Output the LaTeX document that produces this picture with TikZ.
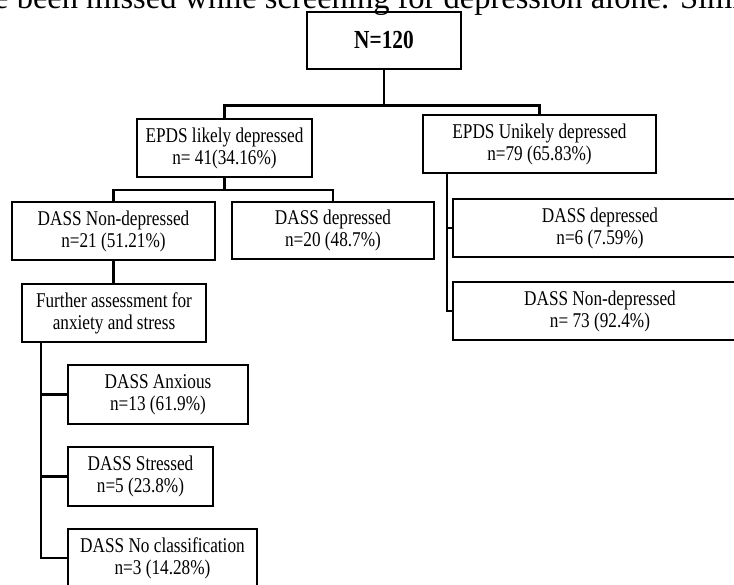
\documentclass[tikz,border=0pt]{standalone}
\usepackage{fontspec}
\setmainfont{Liberation Serif}
\newfontfamily\boxfont{Liberation Serif}[FakeStretch=0.82]
\begin{document}
\begin{tikzpicture}[x=1pt,y=-1pt]
\tikzset{
  box/.style={draw, line width=2pt, inner sep=0pt, outer sep=0pt, align=center,
    font=\boxfont\fontsize{21}{22}\selectfont},
  link/.style={line width=2.2pt},
}
\useasboundingbox (0,0) rectangle (734,584);
\fill[white] (0,0) rectangle (734,584);
\clip (0,0) rectangle (734,584);
\node[anchor=base west, inner sep=0pt, font=\fontsize{32.5}{36}\selectfont] (head) at (-6,8)
  {e been missed while screening for depression alone. Simil};
\node[box, minimum width=154pt, minimum height=57pt, font=\boxfont\bfseries\fontsize{26}{28}\selectfont] (top) at (384,40) {N=120};
\node[box, minimum width=175pt, minimum height=58pt] (likely) at (224.5,148) {EPDS likely depressed\\n= 41(34.16\%)};
\node[box, minimum width=233pt, minimum height=58pt] (unlikely) at (539.5,144) {EPDS Unikely depressed\\n=79 (65.83\%)};
\node[box, minimum width=203pt, minimum height=58pt] (nondep) at (113.5,231) {DASS Non-depressed\\n=21 (51.21\%)};
\node[box, minimum width=202pt, minimum height=57pt] (dep) at (333,230.5) {DASS depressed\\n=20 (48.7\%)};
\node[box, minimum width=184pt, minimum height=58pt] (further) at (114,313) {Further assessment for\\anxiety and stress};
\node[box, minimum width=294pt, minimum height=58pt] (rdep) at (600,228) {DASS depressed\\n=6 (7.59\%)};
\node[box, minimum width=294pt, minimum height=58pt] (rnondep) at (600,311) {DASS Non-depressed\\n= 73 (92.4\%)};
\node[box, minimum width=180pt, minimum height=59pt] (anx) at (158,394.5) {DASS Anxious\\n=13 (61.9\%)};
\node[box, minimum width=145pt, minimum height=59pt] (str) at (140.5,476.5) {DASS Stressed\\n=5 (23.8\%)};
\node[box, minimum width=189pt, minimum height=58pt] (nocl) at (162.5,558) {DASS No classification\\n=3 (14.28\%)};
\draw[link] (top.south) -- ++(0,37) coordinate (j1);
\draw[link] (j1) -| (likely.north);
\draw[link] (j1) -| (unlikely.north);
\draw[link] (likely.south) -- ++(0,13) coordinate (j2);
\draw[link] (j2) -| (nondep.north);
\draw[link] (j2) -| (dep.north);
\draw[link] (nondep.south) -- (nondep.south |- further.north);
\draw[link] ([xshift=24pt]unlikely.south west) |- (rdep.west);
\draw[link] ([xshift=24pt]unlikely.south west) |- (rnondep.west);
\draw[link] ([xshift=19pt]further.south west) |- (anx.west);
\draw[link] ([xshift=19pt]further.south west) |- (str.west);
\draw[link] ([xshift=19pt]further.south west) |- (nocl.west);
\end{tikzpicture}
\end{document}
